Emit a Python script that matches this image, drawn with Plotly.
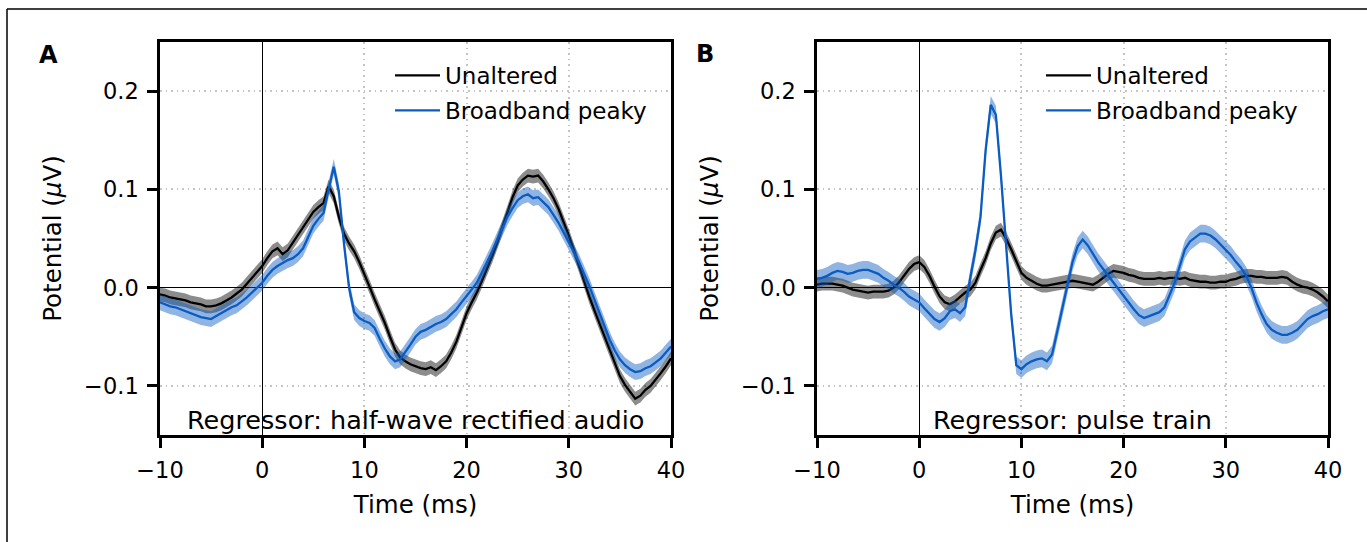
import plotly.graph_objects as go

# ---------------- data ----------------
time_ms = [-10.0, -9.5, -9.0, -8.5, -8.0, -7.5, -7.0, -6.5, -6.0, -5.5, -5.0, -4.5, -4.0, -3.5, -3.0, -2.5,
           -2.0, -1.5, -1.0, -0.5, 0.0, 0.5, 1.0, 1.5, 2.0, 2.5, 3.0, 3.5, 4.0, 4.5, 5.0, 5.5, 6.0, 6.5,
           7.0, 7.5, 8.0, 8.5, 9.0, 9.5, 10.0, 10.5, 11.0, 11.5, 12.0, 12.5, 13.0, 13.5, 14.0, 14.5, 15.0,
           15.5, 16.0, 16.5, 17.0, 17.5, 18.0, 18.5, 19.0, 19.5, 20.0, 20.5, 21.0, 21.5, 22.0, 22.5, 23.0,
           23.5, 24.0, 24.5, 25.0, 25.5, 26.0, 26.5, 27.0, 27.5, 28.0, 28.5, 29.0, 29.5, 30.0, 30.5, 31.0,
           31.5, 32.0, 32.5, 33.0, 33.5, 34.0, 34.5, 35.0, 35.5, 36.0, 36.5, 37.0, 37.5, 38.0, 38.5, 39.0,
           39.5, 40.0]

# Panel A: regressor = half-wave rectified audio
a_unaltered = [-0.007, -0.008, -0.010, -0.011, -0.012, -0.013, -0.015, -0.016, -0.017, -0.019, -0.019,
               -0.018, -0.016, -0.013, -0.010, -0.006, -0.002, 0.004, 0.010, 0.016, 0.022, 0.030, 0.037,
               0.040, 0.034, 0.038, 0.046, 0.053, 0.061, 0.069, 0.077, 0.082, 0.086, 0.103, 0.093, 0.072,
               0.055, 0.045, 0.037, 0.026, 0.014, 0.001, -0.012, -0.024, -0.036, -0.050, -0.063, -0.071,
               -0.075, -0.078, -0.080, -0.082, -0.083, -0.081, -0.084, -0.080, -0.075, -0.066, -0.055,
               -0.041, -0.026, -0.015, -0.005, 0.007, 0.019, 0.032, 0.046, 0.062, 0.077, 0.092, 0.104,
               0.110, 0.114, 0.113, 0.114, 0.108, 0.100, 0.091, 0.080, 0.067, 0.053, 0.038, 0.022, 0.006,
               -0.009, -0.023, -0.036, -0.050, -0.063, -0.077, -0.090, -0.099, -0.106, -0.113, -0.110,
               -0.104, -0.100, -0.094, -0.087, -0.080, -0.072]
a_peaky = [-0.015, -0.017, -0.019, -0.020, -0.022, -0.024, -0.026, -0.028, -0.030, -0.031, -0.032, -0.029,
           -0.026, -0.023, -0.020, -0.018, -0.014, -0.010, -0.005, 0.000, 0.005, 0.012, 0.018, 0.022,
           0.025, 0.028, 0.030, 0.034, 0.040, 0.052, 0.063, 0.070, 0.076, 0.100, 0.123, 0.098, 0.045,
           0.000, -0.025, -0.031, -0.034, -0.036, -0.041, -0.052, -0.062, -0.070, -0.075, -0.073, -0.066,
           -0.058, -0.050, -0.045, -0.043, -0.040, -0.037, -0.035, -0.032, -0.027, -0.022, -0.015,
           -0.009, -0.002, 0.005, 0.015, 0.026, 0.037, 0.049, 0.061, 0.072, 0.081, 0.089, 0.093, 0.095,
           0.091, 0.092, 0.087, 0.082, 0.074, 0.066, 0.056, 0.046, 0.036, 0.026, 0.014, 0.002, -0.012,
           -0.026, -0.040, -0.053, -0.064, -0.073, -0.079, -0.083, -0.086, -0.085, -0.082, -0.080,
           -0.076, -0.072, -0.066, -0.060]

# Panel B: regressor = pulse train
b_unaltered = [0.003, 0.004, 0.004, 0.004, 0.003, 0.002, 0.000, -0.002, -0.003, -0.004, -0.005, -0.004,
               -0.004, -0.004, -0.003, 0.000, 0.005, 0.012, 0.019, 0.024, 0.026, 0.021, 0.012, 0.001,
               -0.009, -0.015, -0.017, -0.014, -0.009, -0.005, -0.002, 0.005, 0.018, 0.030, 0.045, 0.056,
               0.059, 0.050, 0.039, 0.026, 0.015, 0.010, 0.007, 0.004, 0.002, 0.002, 0.003, 0.004, 0.005,
               0.006, 0.007, 0.006, 0.005, 0.004, 0.003, 0.006, 0.010, 0.014, 0.017, 0.016, 0.015, 0.013,
               0.012, 0.010, 0.009, 0.009, 0.009, 0.010, 0.009, 0.010, 0.010, 0.009, 0.010, 0.008, 0.007,
               0.006, 0.006, 0.005, 0.005, 0.006, 0.006, 0.008, 0.009, 0.011, 0.012, 0.012, 0.011, 0.011,
               0.010, 0.010, 0.010, 0.011, 0.010, 0.006, 0.003, 0.001, 0.000, -0.002, -0.005, -0.009, -0.014]
b_peaky = [0.009, 0.010, 0.012, 0.015, 0.017, 0.016, 0.014, 0.015, 0.017, 0.018, 0.018, 0.016, 0.014,
           0.010, 0.007, 0.003, 0.000, -0.004, -0.009, -0.012, -0.015, -0.021, -0.027, -0.032, -0.035,
           -0.031, -0.024, -0.022, -0.026, -0.020, 0.010, 0.038, 0.072, 0.140, 0.186, 0.176, 0.114, 0.045,
           -0.027, -0.079, -0.083, -0.078, -0.075, -0.073, -0.072, -0.075, -0.068, -0.045, -0.022,
           0.003, 0.026, 0.042, 0.049, 0.043, 0.034, 0.026, 0.019, 0.012, 0.005, -0.002, -0.009, -0.016,
           -0.022, -0.028, -0.031, -0.029, -0.027, -0.025, -0.020, -0.008, 0.005, 0.022, 0.039, 0.047,
           0.051, 0.055, 0.055, 0.053, 0.049, 0.044, 0.039, 0.033, 0.026, 0.020, 0.012, 0.000, -0.015,
           -0.027, -0.037, -0.043, -0.046, -0.048, -0.048, -0.046, -0.043, -0.038, -0.032, -0.029,
           -0.027, -0.024, -0.022]

# standard error half-widths of the shaded bands
se_a_unaltered = 0.007
se_a_peaky = 0.008
se_b_unaltered = 0.007
se_b_peaky = 0.009

series_names = ["Unaltered", "Broadband peaky"]
panel_titles = ["Regressor: half-wave rectified audio", "Regressor: pulse train"]
panel_letters = ["A", "B"]
x_tickvals = [-10, 0, 10, 20, 30, 40]
x_ticktext = ["\u221210", "0", "10", "20", "30", "40"]
y_tickvals = [-0.1, 0.0, 0.1, 0.2]
y_ticktext = ["\u22120.1", "0.0", "0.1", "0.2"]

# ---------------- styling ----------------
W, H = 1367, 542
FONT = "DejaVu Sans"
BLACK = "#000000"
BLUE = "#0b5cc2"
BAND_BLACK = "rgba(0,0,0,0.45)"
BAND_BLUE = "rgba(11,92,194,0.45)"


def px_x(p):
    return p / W


def px_y(p):
    return 1 - p / H


fig = go.Figure()

panels = [
    dict(xa="x", ya="y", legend="legend",
         series=[(a_unaltered, se_a_unaltered, BLACK, BAND_BLACK), (a_peaky, se_a_peaky, BLUE, BAND_BLUE)]),
    dict(xa="x2", ya="y2", legend="legend2",
         series=[(b_unaltered, se_b_unaltered, BLACK, BAND_BLACK), (b_peaky, se_b_peaky, BLUE, BAND_BLUE)]),
]

for pi, p in enumerate(panels):
    for si, (vals, se, col, band) in enumerate(p["series"]):
        upper = [v + se for v in vals]
        lower = [v - se for v in vals]
        grp = f"p{pi}s{si}"
        fig.add_trace(go.Scatter(x=time_ms, y=upper, xaxis=p["xa"], yaxis=p["ya"], mode="lines",
                                 line=dict(width=0, color=band), showlegend=False, hoverinfo="skip",
                                 legendgroup=grp, legend=p["legend"]))
        fig.add_trace(go.Scatter(x=time_ms, y=lower, xaxis=p["xa"], yaxis=p["ya"], mode="lines",
                                 line=dict(width=0, color=band), fill="tonexty", fillcolor=band,
                                 showlegend=False, hoverinfo="skip", legendgroup=grp, legend=p["legend"]))
        fig.add_trace(go.Scatter(x=time_ms, y=vals, xaxis=p["xa"], yaxis=p["ya"], mode="lines",
                                 line=dict(width=2.3, color=col), name=series_names[si],
                                 legendgroup=grp, legend=p["legend"]))

x_domains = [[px_x(160), px_x(671)], [px_x(817), px_x(1328)]]
y_domain = [px_y(435), px_y(42)]

axis_common = dict(showline=True, linewidth=2.5, linecolor=BLACK, mirror=True,
                   ticks="outside", ticklen=10, tickwidth=2.5, tickcolor=BLACK,
                   showgrid=True, gridcolor="#c4c4c4", gridwidth=1.5, griddash="1.5px,4px",
                   zeroline=True, zerolinecolor=BLACK, zerolinewidth=0.9,
                   tickfont=dict(family=FONT, size=22.5, color=BLACK))

for i, suffix in enumerate(["", "2"]):
    fig.layout["xaxis" + suffix] = dict(axis_common, domain=x_domains[i], range=[-10, 40],
                                        tickmode="array", tickvals=x_tickvals, ticktext=x_ticktext,
                                        anchor="y" + suffix, ticklabelstandoff=3,
                                        title=dict(text="Time (ms)", standoff=15,
                                                   font=dict(family=FONT, size=24.5, color=BLACK)))
    fig.layout["yaxis" + suffix] = dict(axis_common, domain=y_domain, range=[-0.15, 0.25],
                                        tickmode="array", tickvals=y_tickvals, ticktext=y_ticktext,
                                        anchor="x" + suffix, ticklabelstandoff=4,
                                        title=dict(text="Potential (<i>\u03bc</i>V)", standoff=16,
                                                   font=dict(family=FONT, size=24.5, color=BLACK)))

annotations = []
centers = [(160 + 671) / 2, (817 + 1328) / 2]
for i in range(2):
    annotations.append(dict(text=panel_titles[i], xref="paper", yref="paper", x=px_x(centers[i]),
                            y=px_y(420), xanchor="center", yanchor="middle", showarrow=False,
                            font=dict(family=FONT, size=25.5, color=BLACK)))
letter_pos = [(48, 55), (705, 54)]
for i in range(2):
    annotations.append(dict(text=f"<b>{panel_letters[i]}</b>", xref="paper", yref="paper",
                            x=px_x(letter_pos[i][0]), y=px_y(letter_pos[i][1]), xanchor="center",
                            yanchor="middle", showarrow=False, font=dict(family=FONT, size=24, color=BLACK)))

legend_common = dict(font=dict(family=FONT, size=23, color=BLACK), bgcolor="rgba(0,0,0,0)",
                     borderwidth=0, xanchor="left", yanchor="top", traceorder="grouped",
                     tracegroupgap=2, itemwidth=45)

fig.update_layout(
    width=W, height=H, margin=dict(l=0, r=0, t=0, b=0, autoexpand=False),
    paper_bgcolor="white", plot_bgcolor="white",
    showlegend=True,
    legend=dict(legend_common, x=px_x(390), y=px_y(54)),
    legend2=dict(legend_common, x=px_x(1041), y=px_y(54)),
    annotations=annotations,
    shapes=[
        dict(type="line", xref="paper", yref="paper", x0=px_x(7), x1=1, y0=px_y(9), y1=px_y(9),
             line=dict(color=BLACK, width=1.5)),
        dict(type="line", xref="paper", yref="paper", x0=px_x(7), x1=px_x(7), y0=px_y(9), y1=0,
             line=dict(color=BLACK, width=1.5)),
    ],
)

fig.write_html("out.html")
